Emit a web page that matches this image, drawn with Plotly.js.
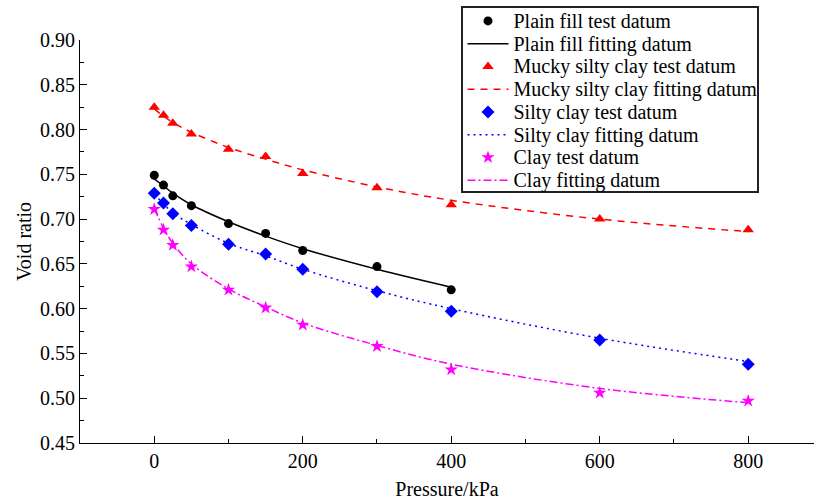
<!DOCTYPE html>
<html>
<head>
<meta charset="utf-8">
<script src="https://cdn.plot.ly/plotly-3.0.1.min.js"></script>
<style>html,body{margin:0;padding:0;background:#fff;}#chart{width:814px;height:504px;}</style>
</head>
<body>
<div id="chart"></div>
<script>
// Pressure (kPa)
const pressureShort = [0, 12.5, 25, 50, 100, 150, 200, 300, 400];
const pressureLong = [0, 12.5, 25, 50, 100, 150, 200, 300, 400, 600, 800];

// Plain fill
const plainTest = [0.749, 0.738, 0.726, 0.715, 0.695, 0.684, 0.665, 0.647, 0.621];
const plainFit  = [0.745, 0.737, 0.729, 0.716, 0.697, 0.681, 0.667, 0.644, 0.624];
// Mucky silty clay
const muckyTest = [0.825, 0.816, 0.807, 0.795, 0.778, 0.770, 0.751, 0.735, 0.716, 0.700, 0.688];
const muckyFit  = [0.823, 0.815, 0.808, 0.797, 0.780, 0.767, 0.755, 0.736, 0.721, 0.700, 0.686];
// Silty clay
const siltyTest = [0.729, 0.718, 0.706, 0.693, 0.672, 0.661, 0.644, 0.619, 0.597, 0.565, 0.538];
const siltyFit  = [0.728, 0.717, 0.707, 0.694, 0.673, 0.659, 0.644, 0.620, 0.600, 0.567, 0.541];
// Clay
const clayTest = [0.711, 0.688, 0.671, 0.647, 0.621, 0.601, 0.582, 0.558, 0.532, 0.506, 0.497];
const clayFit  = [0.712, 0.690, 0.673, 0.650, 0.622, 0.602, 0.584, 0.559, 0.538, 0.511, 0.495];

const seriesNames = [
  'Plain fill test datum', 'Plain fill fitting datum',
  'Mucky silty clay test datum', 'Mucky silty clay fitting datum',
  'Silty clay test datum', 'Silty clay fitting datum',
  'Clay test datum', 'Clay fitting datum'
];
const xTickVals = [0, 200, 400, 600, 800];
const xMinorVals = [100, 300, 500, 700];

const fontFam = '"Liberation Serif", "Times New Roman", serif';

const traces = [
  {x: pressureShort, y: plainTest, name: seriesNames[0], mode: 'markers', type: 'scatter',
   marker: {symbol: 'circle', size: 9, color: '#000'}},
  {x: pressureShort, y: plainFit, name: seriesNames[1], mode: 'lines', type: 'scatter',
   line: {color: '#000', width: 1.5, shape: 'spline'}},
  {x: pressureLong, y: muckyTest, name: seriesNames[2], mode: 'markers', type: 'scatter',
   marker: {symbol: 'triangle-up', size: 10, color: '#ff0000'}},
  {x: pressureLong, y: muckyFit, name: seriesNames[3], mode: 'lines', type: 'scatter',
   line: {color: '#ff0000', width: 1.5, dash: '7px,6px', shape: 'spline'}},
  {x: pressureLong, y: siltyTest, name: seriesNames[4], mode: 'markers', type: 'scatter',
   marker: {symbol: 'diamond', size: 10, color: '#0000ff'}},
  {x: pressureLong, y: siltyFit, name: seriesNames[5], mode: 'lines', type: 'scatter',
   line: {color: '#0000ff', width: 1.5, dash: '2px,4px', shape: 'spline'}},
  {x: pressureLong, y: clayTest, name: seriesNames[6], mode: 'markers', type: 'scatter',
   marker: {symbol: 'star', size: 10, color: '#ff00ff'}},
  {x: pressureLong, y: clayFit, name: seriesNames[7], mode: 'lines', type: 'scatter',
   line: {color: '#ff00ff', width: 1.5, dash: '8px,3px,2px,3px', shape: 'spline'}}
];

const legendFontLayout = 15.2;  // gives ~22.8px row spacing
const legendFontDisplay = 20;
const legendTop = 3;            // px from top of figure
const boxTop = 7, boxBottom = 192;

const layout = {
  width: 814, height: 504,
  paper_bgcolor: '#fff', plot_bgcolor: '#fff',
  margin: {l: 80, r: 0, t: 40, b: 61},
  font: {family: fontFam, color: '#000', size: 20},
  showlegend: true,
  legend: {
    x: (461 - 80) / 734, y: (443 - legendTop) / 403, xanchor: 'left', yanchor: 'top',
    bgcolor: '#fff', bordercolor: '#222', borderwidth: 1.5,
    font: {family: fontFam, size: legendFontLayout, color: '#000'},
    tracegroupgap: 0, itemwidth: 41
  },
  xaxis: {
    range: [-100, 888.6],
    tickvals: xTickVals,
    ticks: 'inside', ticklen: 7, tickwidth: 1, tickcolor: '#000',
    minor: {tickvals: xMinorVals, ticks: 'inside', ticklen: 4, tickcolor: '#000'},
    showgrid: false, zeroline: false,
    showline: true, linecolor: '#000', linewidth: 1,
    tickfont: {family: fontFam, size: 20, color: '#000'},
    title: {text: 'Pressure/kPa', font: {family: fontFam, size: 20, color: '#000'}, standoff: 10}
  },
  yaxis: {
    range: [0.45, 0.90],
    dtick: 0.05, tick0: 0.45, tickformat: '.2f',
    ticks: 'inside', ticklen: 7, tickwidth: 1, tickcolor: '#000',
    minor: {dtick: 0.025, ticks: 'inside', ticklen: 4, tickcolor: '#000'},
    showgrid: false, zeroline: false,
    showline: true, linecolor: '#000', linewidth: 1,
    tickfont: {family: fontFam, size: 20, color: '#000'},
    title: {text: 'Void ratio', font: {family: fontFam, size: 20, color: '#000'}, standoff: 3}
  }
};

Plotly.newPlot('chart', traces, layout, {displayModeBar: false, staticPlot: true}).then(function (gd) {
  // enlarge legend text while keeping the compact row spacing of the reference
  const texts = gd.querySelectorAll('.legend text.legendtext');
  let maxRight = 0;
  texts.forEach(function (t) {
    t.style.fontSize = legendFontDisplay + 'px';
    t.setAttribute('y', '7');
    const bb = t.getBBox();
    maxRight = Math.max(maxRight, bb.x + bb.width);
  });
  const newW = Math.ceil(maxRight + 1);
  gd.querySelectorAll('.legend rect.bg').forEach(function (r) {
    r.setAttribute('width', newW);
    r.setAttribute('y', boxTop - legendTop);
    r.setAttribute('height', boxBottom - boxTop);
  });
  document.querySelectorAll('clipPath[id^="legend"] rect').forEach(function (r) {
    r.setAttribute('width', newW);
    r.setAttribute('height', boxBottom - legendTop + 5);
  });
});
</script>
</body>
</html>
